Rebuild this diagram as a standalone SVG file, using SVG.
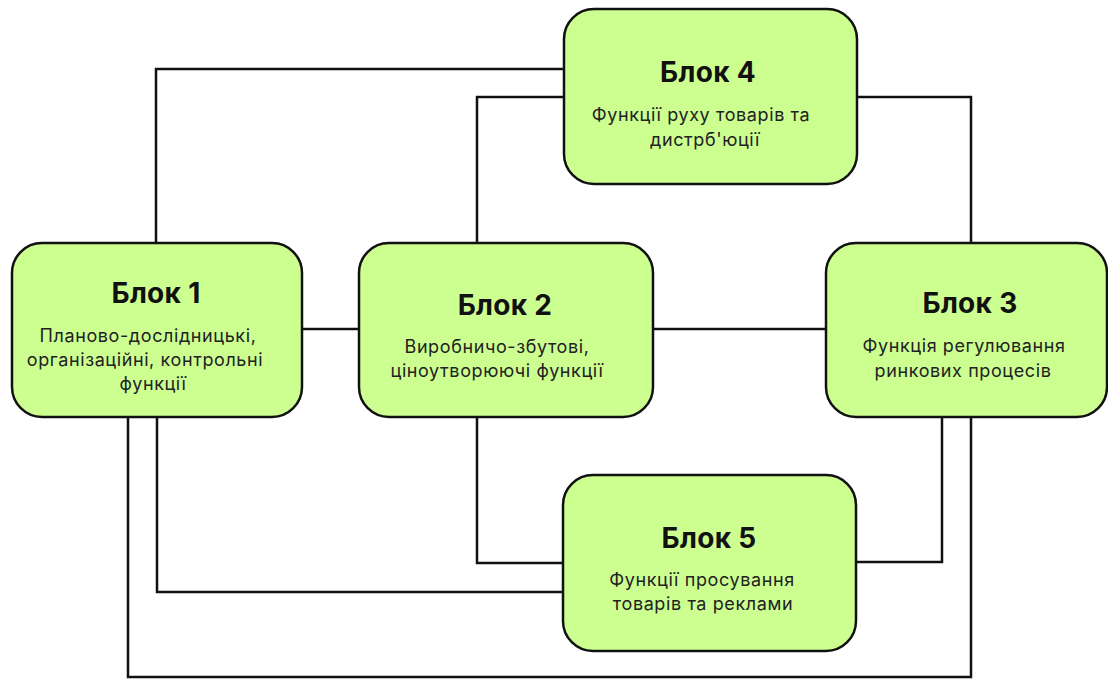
<svg xmlns="http://www.w3.org/2000/svg" width="1108" height="679" viewBox="0 0 1108 679">
<style>
.box{fill:#ccff90;stroke:#111;stroke-width:2.5}
.con{fill:none;stroke:#111;stroke-width:2.5}
.t{font-family:Inter,"Liberation Sans",sans-serif;font-weight:700;font-size:28px;letter-spacing:0.3px;fill:#111;text-anchor:middle}
.b{font-family:Inter,"Liberation Sans",sans-serif;font-size:18px;letter-spacing:0.6px;fill:#222;text-anchor:middle}
</style>
<rect width="1108" height="679" fill="#fff"/>
<g id="connectors">
<polyline class="con" points="156,243 156,69 564,69"/>
<polyline class="con" points="477,243 477,97 564,97"/>
<polyline class="con" points="857,97 971,97 971,243"/>
<line class="con" x1="302" y1="329" x2="359" y2="329"/>
<line class="con" x1="653" y1="329" x2="826" y2="329"/>
<polyline class="con" points="128,417 128,677 971,677 971,417"/>
<polyline class="con" points="157,417 157,592 563,592"/>
<polyline class="con" points="477,417 477,563 563,563"/>
<polyline class="con" points="942,417 942,562 856,562"/>
</g>
<g id="block1">
<rect class="box" x="12" y="243" width="290" height="174" rx="30"/>
<text class="t" x="156" y="303">Блок 1</text>
<text class="b" x="148" y="342">Планово-дослідницькі,</text>
<text class="b" x="145" y="366">організаційні, контрольні</text>
<text class="b" x="153" y="390">функції</text>
</g>
<g id="block2">
<rect class="box" x="359" y="243" width="294" height="174" rx="30"/>
<text class="t" x="505" y="315">Блок 2</text>
<text class="b" x="497" y="353">Виробничо-збутові,</text>
<text class="b" x="497" y="377">ціноутворюючі функції</text>
</g>
<g id="block3">
<rect class="box" x="826" y="243" width="281" height="174" rx="30"/>
<text class="t" x="970" y="313">Блок 3</text>
<text class="b" x="964" y="352">Функція регулювання</text>
<text class="b" x="963" y="377">ринкових процесів</text>
</g>
<g id="block4">
<rect class="box" x="564" y="9" width="293" height="175" rx="30"/>
<text class="t" x="708" y="82">Блок 4</text>
<text class="b" x="701" y="121">Функції руху товарів та</text>
<text class="b" x="705" y="146">дистрб'юції</text>
</g>
<g id="block5">
<rect class="box" x="563" y="475" width="293" height="176" rx="30"/>
<text class="t" x="709" y="548">Блок 5</text>
<text class="b" x="702" y="586">Функції просування</text>
<text class="b" x="703" y="610">товарів та реклами</text>
</g>
</svg>
